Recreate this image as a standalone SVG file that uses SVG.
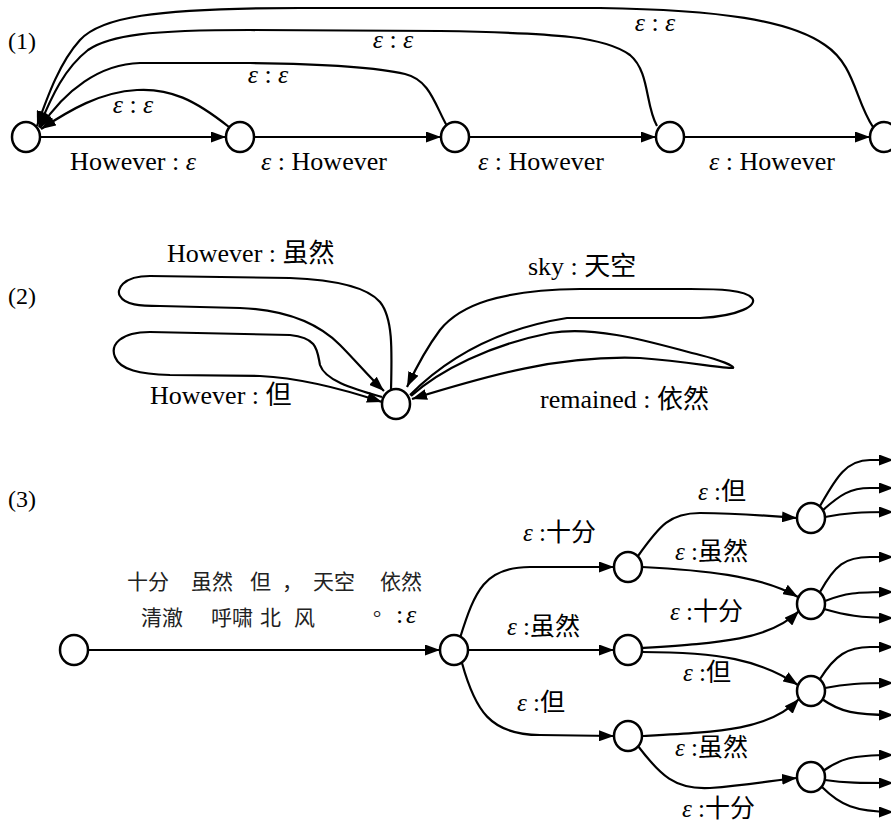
<svg xmlns="http://www.w3.org/2000/svg" width="891" height="822" viewBox="0 0 891 822">
<style>
.n{fill:#fff;stroke:#000;stroke-width:2.5}
.c{fill:none;stroke:#000;stroke-width:2.2}
.a{marker-end:url(#ah)}
.t{font-family:"Liberation Serif","Noto Sans CJK SC",serif;fill:#000}
.s0{font-size:24px}
.s1{font-size:26px}
.s2{font-size:26px}
.s3{font-size:25px}
.cj{font-family:"Noto Sans CJK SC","Liberation Serif",sans-serif;font-size:21px;fill:#222}
.e{font-style:italic}
</style>
<defs>
<marker id="ah" viewBox="0 0 15 11" refX="15" refY="5.5" markerWidth="15" markerHeight="11" markerUnits="userSpaceOnUse" orient="auto"><path d="M0,0 L15,5.5 L0,11 z" fill="#000"/></marker>
</defs>

<g id="connectors">
<!-- part 1 -->
<path class="c a" d="M40,137 L226,137"/>
<path class="c a" d="M254,137 L441,137"/>
<path class="c a" d="M469,137 L656,137"/>
<path class="c a" d="M684,137 L870,137"/>
<path class="c a" d="M229,127 C195,100 170,88 137,90 C100,92 70,110 41,129"/>
<path class="c a" d="M447,126 C435,105 430,80 405,74 C380,68 330,64 250,63 L140,63 C100,64 65,90 40,128"/>
<path class="c a" d="M657,126 C645,105 650,72 630,55 C605,37 560,33 440,31 L250,30 C150,30 110,35 88,50 C65,68 52,95 39,127"/>
<path class="c a" d="M873,127 C855,100 855,65 825,45 C790,20 720,10 600,8 L300,8 C150,8 100,18 80,40 C60,62 48,95 37,126"/>
<!-- part 2 -->
<path class="c a" d="M391,390 C392,350 393,318 380,302 C368,288 340,280 290,278 L150,276 C122,276 116,290 120,296 C125,305 140,306 160,306 L240,308 C290,310 320,325 340,345 C355,360 370,378 384,391"/>
<path class="c a" d="M382,397 C350,388 325,380 320,365 C317,350 318,338 290,335 L150,332 C120,332 110,345 115,357 C120,370 140,374 170,375 L260,376 C300,378 340,388 382,402"/>
<path class="c a" d="M410,395 C440,365 490,330 567,318 L700,318 C740,316 758,305 752,298 C745,290 720,289 690,289 L580,289 C500,290 460,305 440,330 C425,350 415,370 407,387"/>
<path class="c a" d="M411,396 C440,370 490,345 550,333 C600,325 660,345 700,355 C720,360 735,366 733,368 C720,368 690,362 640,358 C560,355 490,375 412,399"/>
<!-- part 3 -->
<path class="c a" d="M88,650 L440,650"/>
<path class="c a" d="M460,638 C475,590 485,567 530,567 L614,567"/>
<path class="c a" d="M468,650 L614,650"/>
<path class="c a" d="M462,663 C475,710 490,735 540,735 L614,736"/>
<path class="c a" d="M638,556 C660,525 670,513 700,513 C740,513 770,516 797,518"/>
<path class="c a" d="M642,567 C700,570 760,575 798,597"/>
<path class="c a" d="M642,648 C720,643 770,640 799,611"/>
<path class="c a" d="M642,652 C720,652 760,660 798,685"/>
<path class="c a" d="M642,736 C720,732 770,730 799,699"/>
<path class="c a" d="M638,746 C660,775 675,790 710,788 C750,785 775,780 797,778"/>
<path class="c a" d="M820,506 C835,480 845,460 870,460 L894,460"/>
<path class="c a" d="M823,510 C840,495 850,488 870,488 L894,488"/>
<path class="c a" d="M825,517 C845,513 860,512 894,512"/>
<path class="c a" d="M820,592 C835,565 845,557 870,557 L894,557"/>
<path class="c a" d="M825,601 C845,593 855,592 894,592"/>
<path class="c a" d="M824,609 C845,615 860,618 894,618"/>
<path class="c a" d="M820,679 C835,655 848,647 870,647 L894,647"/>
<path class="c a" d="M825,688 C845,684 860,683 894,683"/>
<path class="c a" d="M822,699 C840,712 855,715 894,715"/>
<path class="c a" d="M823,771 C840,759 850,755 894,755"/>
<path class="c a" d="M825,780 C845,783 860,783 894,783"/>
<path class="c a" d="M822,787 C840,805 855,812 894,812"/>
</g>

<g id="nodes">
<g id="p1n1"><ellipse class="n" cx="26" cy="137" rx="14" ry="15"/></g>
<g id="p1n2"><ellipse class="n" cx="240" cy="137" rx="14" ry="15"/></g>
<g id="p1n3"><ellipse class="n" cx="455" cy="137" rx="14" ry="15"/></g>
<g id="p1n4"><ellipse class="n" cx="670" cy="137" rx="14" ry="15"/></g>
<g id="p1n5"><ellipse class="n" cx="884" cy="137" rx="14" ry="15"/></g>
<g id="p2n1"><ellipse class="n" cx="396" cy="404" rx="14" ry="15"/></g>
<g id="p3n0"><ellipse class="n" cx="74" cy="650" rx="14" ry="15"/></g>
<g id="p3n1"><ellipse class="n" cx="454" cy="650" rx="14" ry="15"/></g>
<g id="p3a"><ellipse class="n" cx="628" cy="567" rx="14" ry="15"/></g>
<g id="p3b"><ellipse class="n" cx="628" cy="650" rx="14" ry="15"/></g>
<g id="p3c"><ellipse class="n" cx="628" cy="736" rx="14" ry="15"/></g>
<g id="p3d"><ellipse class="n" cx="811" cy="518" rx="14" ry="15"/></g>
<g id="p3e"><ellipse class="n" cx="811" cy="604" rx="14" ry="15"/></g>
<g id="p3f"><ellipse class="n" cx="811" cy="691" rx="14" ry="15"/></g>
<g id="p3g"><ellipse class="n" cx="811" cy="777" rx="14" ry="15"/></g>
</g>

<g id="labels">
<text class="t s0" x="8" y="49">(1)</text>
<text class="t s0" x="8" y="304">(2)</text>
<text class="t s0" x="8" y="507">(3)</text>

<text class="t s1" x="133" y="170" text-anchor="middle">However : <tspan class="e">ε</tspan></text>
<text class="t s1" x="324" y="170" text-anchor="middle"><tspan class="e">ε</tspan> : However</text>
<text class="t s1" x="541" y="170" text-anchor="middle"><tspan class="e">ε</tspan> : However</text>
<text class="t s1" x="772" y="170" text-anchor="middle"><tspan class="e">ε</tspan> : However</text>
<text class="t s1" x="133" y="113" text-anchor="middle"><tspan class="e">ε</tspan> : <tspan class="e">ε</tspan></text>
<text class="t s1" x="268" y="83" text-anchor="middle"><tspan class="e">ε</tspan> : <tspan class="e">ε</tspan></text>
<text class="t s1" x="393" y="48" text-anchor="middle"><tspan class="e">ε</tspan> : <tspan class="e">ε</tspan></text>
<text class="t s1" x="655" y="31" text-anchor="middle"><tspan class="e">ε</tspan> : <tspan class="e">ε</tspan></text>

<text class="t s2" x="167" y="262">However : 虽然</text>
<text class="t s2" x="150" y="404">However : 但</text>
<text class="t s2" x="528" y="275">sky : 天空</text>
<text class="t s2" x="540" y="408">remained : 依然</text>

<text class="cj" y="589"><tspan x="127">十分</tspan><tspan x="191">虽然</tspan><tspan x="250">但</tspan><tspan x="282">，</tspan><tspan x="313">天空</tspan><tspan x="380">依然</tspan></text>
<text class="cj" y="625"><tspan x="141">清澈</tspan><tspan x="211">呼啸</tspan><tspan x="260">北</tspan><tspan x="294">风</tspan></text>
<text class="cj" x="373" y="615">。</text>
<text class="t s1" y="623"><tspan x="396">:</tspan><tspan class="e" x="406">ε</tspan></text>

<text class="t s3" x="523" y="541"><tspan class="e">ε</tspan> :十分</text>
<text class="t s3" x="507" y="635"><tspan class="e">ε</tspan> :虽然</text>
<text class="t s3" x="517" y="711"><tspan class="e">ε</tspan> :但</text>
<text class="t s3" x="698" y="500"><tspan class="e">ε</tspan> :但</text>
<text class="t s3" x="675" y="560"><tspan class="e">ε</tspan> :虽然</text>
<text class="t s3" x="670" y="620"><tspan class="e">ε</tspan> :十分</text>
<text class="t s3" x="683" y="681"><tspan class="e">ε</tspan> :但</text>
<text class="t s3" x="675" y="756"><tspan class="e">ε</tspan> :虽然</text>
<text class="t s3" x="682" y="817"><tspan class="e">ε</tspan> :十分</text>
</g>
</svg>
